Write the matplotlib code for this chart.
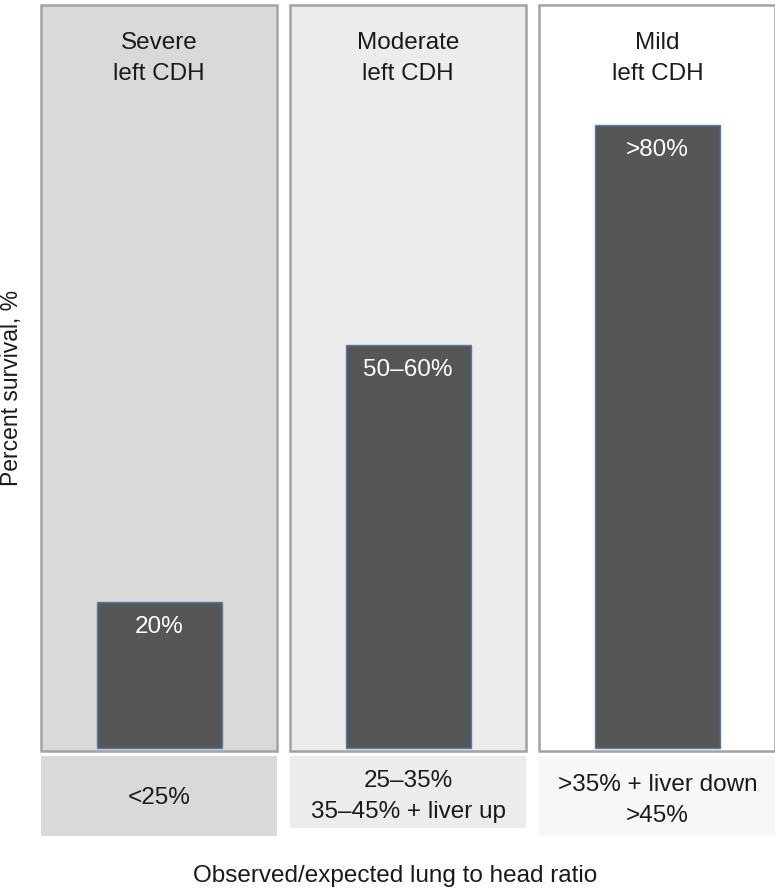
import matplotlib.pyplot as plt
from matplotlib.patches import Rectangle

plt.rcParams['font.family'] = ['Liberation Sans', 'DejaVu Sans']

# --- data ---
groups = ["Severe\nleft CDH", "Moderate\nleft CDH", "Mild\nleft CDH"]
survival = [20, 55, 85]
survival_labels = ["20%", "50\u201360%", ">80%"]
lhr_labels = ["<25%", "25\u201335%\n35\u201345% + liver up", ">35% + liver down\n>45%"]

panel_fill = ["#d9d9d9", "#ececec", "#ffffff"]
box_fill = ["#d9d9d9", "#ececec", "#f7f7f7"]

fig = plt.figure(figsize=(7.75, 8.96), dpi=100)
ax = fig.add_axes([41/775, 58/896, 734/775, 835/896])
ax.set_xlim(-0.474, 2.472)
ax.set_ylim(-12.2, 101.6)
ax.axis("off")

x = range(len(groups))

# --- background panels ---
ax.bar(x, 101.6, bottom=-0.3, width=0.948, color=panel_fill,
       edgecolor="#a3a3a3", linewidth=1.8, zorder=1, clip_on=False)

# --- survival bars ---
ax.bar(x, survival, width=0.502, color="#555756",
       edgecolor="#5a78a8", linewidth=1.0, zorder=2)
for xi, val, lab in zip(x, survival, survival_labels):
    ax.text(xi, val - 3.4, lab, ha="center", va="center", color="white",
            fontsize=17.5, zorder=3)

# --- panel titles ---
for xi, g in zip(x, groups):
    ax.text(xi, 94.0, g, ha="center", va="center", fontsize=17.5,
            linespacing=1.55, color="#1a1a1a", zorder=3)

# --- lung-to-head ratio boxes ---
box_bottoms = [-11.94, -10.85, -11.94]
text_y = [-6.75, -6.55, -7.1]
for xi, fc, b, ty, lab in zip(x, box_fill, box_bottoms, text_y, lhr_labels):
    ax.add_patch(Rectangle((xi - 0.474, b), 0.948, -1.09 - b,
                           facecolor=fc, edgecolor="none", zorder=1))
    ax.text(xi, ty, lab, ha="center", va="center",
            fontsize=17.5, linespacing=1.55, color="#1a1a1a", zorder=3)

fig.text(12/775, 1 - 388/896, "Percent survival, %", rotation=90,
         ha="center", va="center", fontsize=16.5, color="#1a1a1a")
fig.text(395/775, 1 - 876/896, "Observed/expected lung to head ratio",
         ha="center", va="center", fontsize=17.5, color="#1a1a1a")

fig.savefig("out.png", dpi=100)
